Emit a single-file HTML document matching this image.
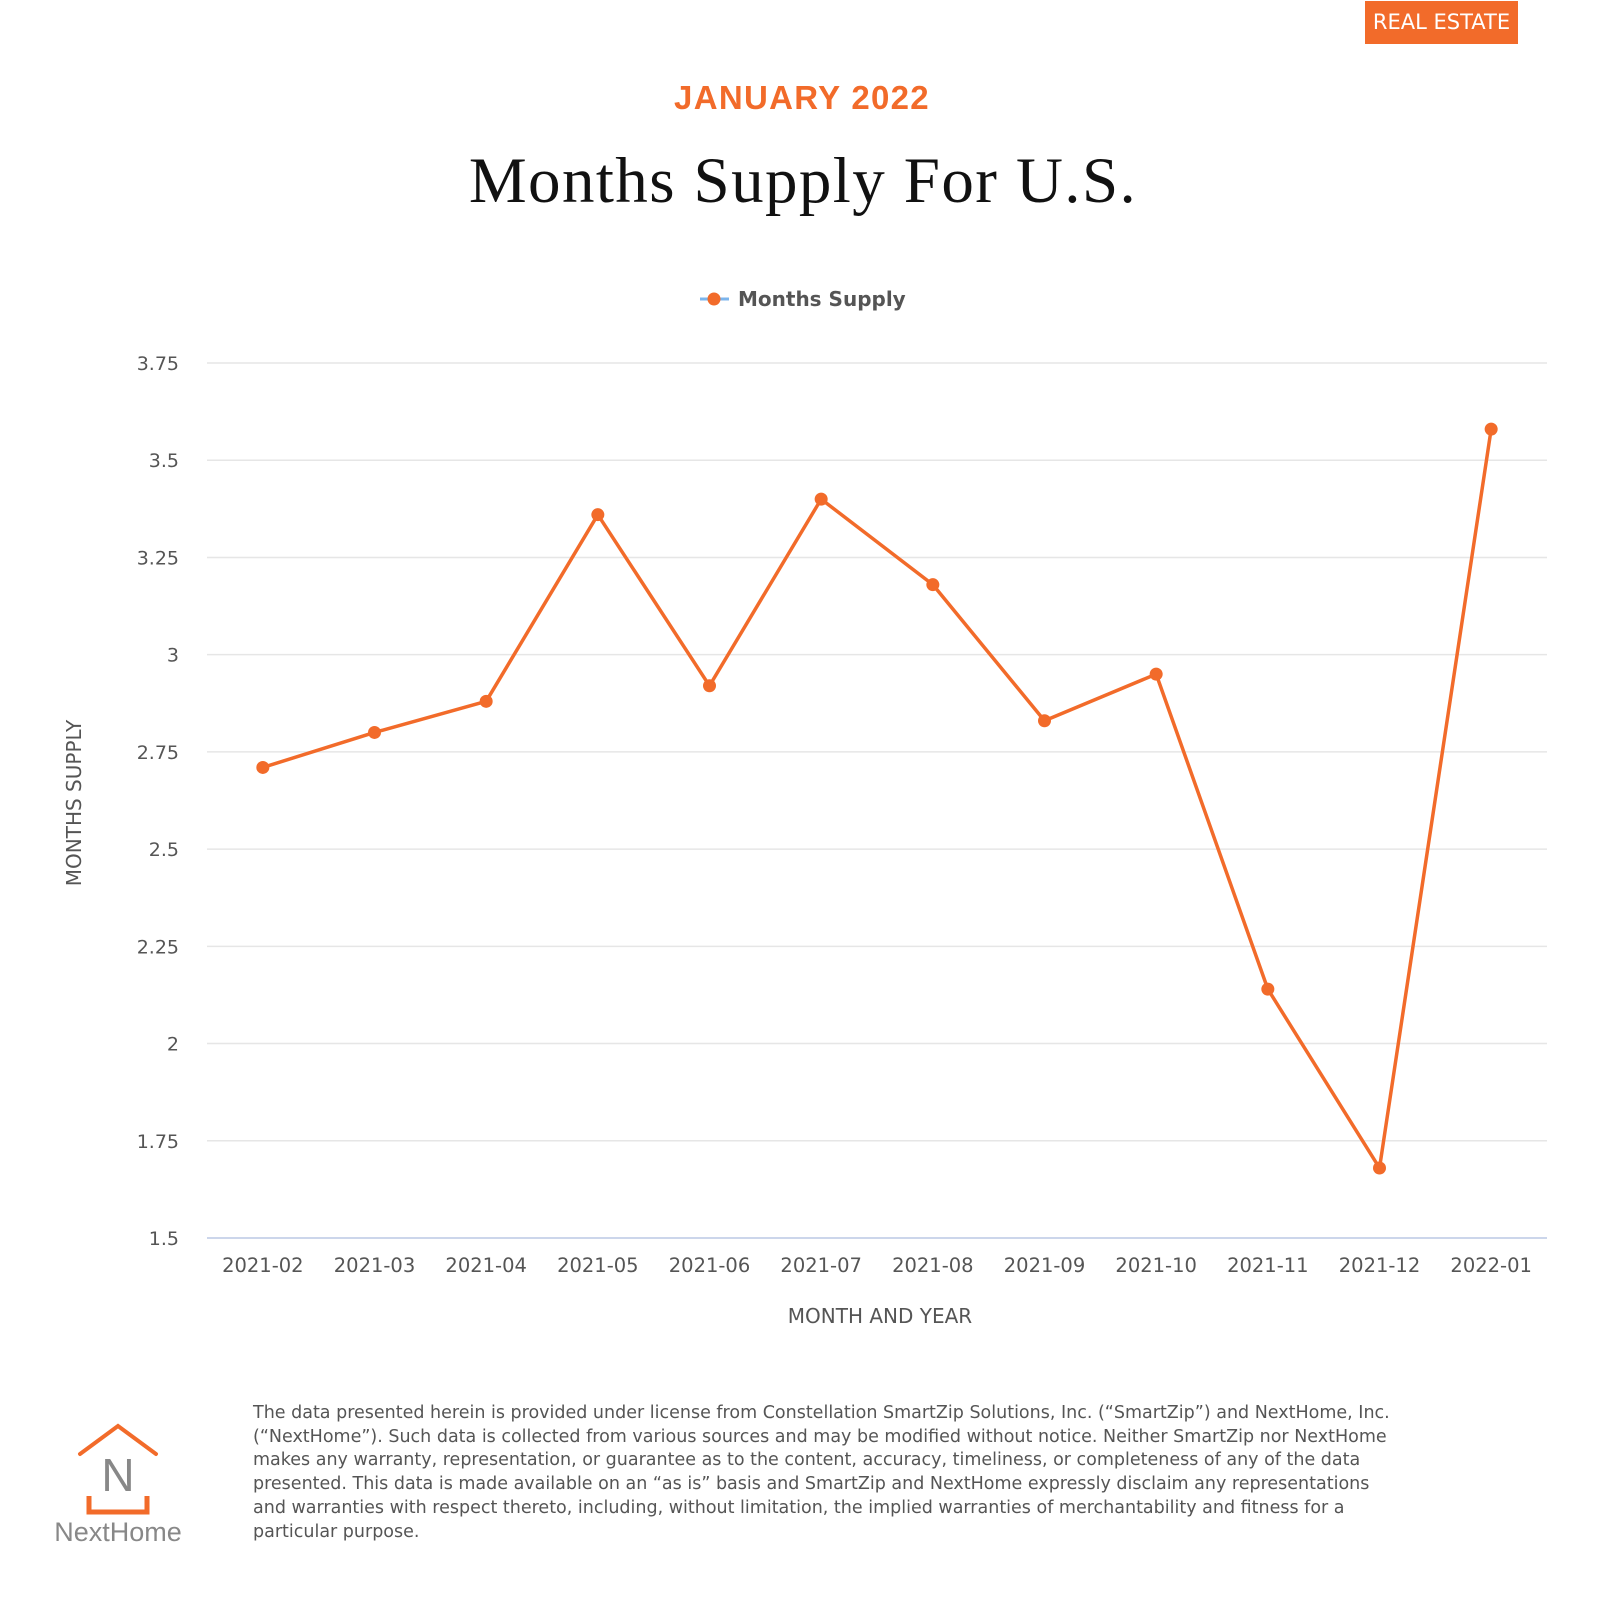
<!DOCTYPE html>
<html><head><meta charset="utf-8"><style>
body{margin:0;width:1600px;height:1600px;background:#fff;font-family:"DejaVu Sans","Liberation Sans",sans-serif;position:relative;overflow:hidden}
.abs{position:absolute}
</style></head><body>
<div class="abs" style="left:1365px;top:1px;width:153px;height:43px;background:#f26b2a;color:#fff;font-size:21px;line-height:43px;text-align:center">REAL ESTATE</div>
<div class="abs" style="left:0;width:1604px;top:79px;text-align:center;color:#f26b2a;font-weight:bold;font-size:33px;letter-spacing:1.3px;font-family:'Liberation Sans',sans-serif">JANUARY 2022</div>
<div class="abs" style="left:0;width:1606px;top:144px;text-align:center;color:#111;font-size:65px;letter-spacing:1.4px;font-family:'Liberation Serif',serif">Months Supply For U.S.</div>
<svg class="abs" style="left:0;top:0" width="1600" height="1600" id="chart"></svg>
<div class="abs" style="left:253px;top:1402px;width:1150px;font-size:17.5px;line-height:23.7px;color:#555">The data presented herein is provided under license from Constellation SmartZip Solutions, Inc. (“SmartZip”) and NextHome, Inc. (“NextHome”). Such data is collected from various sources and may be modified without notice. Neither SmartZip nor NextHome makes any warranty, representation, or guarantee as to the content, accuracy, timeliness, or completeness of any of the data presented. This data is made available on an “as is” basis and SmartZip and NextHome expressly disclaim any representations and warranties with respect thereto, including, without limitation, the implied warranties of merchantability and fitness for a particular purpose.</div>
<svg class="abs" style="left:40px;top:1420px" width="160" height="140">
<polyline points="40,34 78,6 116,34" fill="none" stroke="#f26b2a" stroke-width="4" stroke-linecap="round"/>
<text x="78" y="71" text-anchor="middle" font-size="46" fill="#888" font-family="Liberation Sans,sans-serif">N</text>
<polyline points="49,76 49,92 107,92 107,76" fill="none" stroke="#f26b2a" stroke-width="5"/>
<text x="78" y="121" text-anchor="middle" font-size="27" fill="#888" font-family="Liberation Sans,sans-serif">NextHome</text>
</svg>
<script>
const categories=["2021-02","2021-03","2021-04","2021-05","2021-06","2021-07","2021-08","2021-09","2021-10","2021-11","2021-12","2022-01"];
const values=[2.71,2.80,2.88,3.36,2.92,3.40,3.18,2.83,2.95,2.14,1.68,3.58];
const yTicks=[1.5,1.75,2,2.25,2.5,2.75,3,3.25,3.5,3.75];
const yTickLabels=["1.5","1.75","2","2.25","2.5","2.75","3","3.25","3.5","3.75"];
const svg=document.getElementById('chart');const NS='http://www.w3.org/2000/svg';
const L=207,R=1547,T=363,B=1238,yMin=1.5,yMax=3.75;
const band=(R-L)/categories.length;
const x=i=>L+band*(i+0.5);
const y=v=>B-(v-yMin)/(yMax-yMin)*(B-T);
function mk(t,a,txt){const e=document.createElementNS(NS,t);for(const k in a)e.setAttribute(k,a[k]);if(txt!=null)e.textContent=txt;svg.appendChild(e);return e;}
yTicks.forEach((v,i)=>{
 const g=mk('line',{x1:L,x2:R,y1:y(v),y2:y(v),stroke:i==0?'#ccd6eb':'#e6e6e6','stroke-width':i==0?2:1.5});
 
 
 const t=mk('text',{x:179,y:y(v)+7,'text-anchor':'end','font-size':19,fill:'#555'},yTickLabels[i]);
 
 
});
categories.forEach((c,i)=>{
 const t=mk('text',{x:x(i),y:1272,'text-anchor':'middle','font-size':19.5,fill:'#555'},c);
 
 
});
const xt=mk('text',{x:880,y:1323,'text-anchor':'middle','font-size':20,fill:'#555'},'MONTH AND YEAR');


const yt=mk('text',{x:0,y:0,'text-anchor':'middle','font-size':20,fill:'#555',transform:'translate(81,803) rotate(-90)'},'MONTHS SUPPLY');


const line=mk('polyline',{points:values.map((v,i)=>x(i)+','+y(v)).join(' '),fill:'none',stroke:'#f26b2a','stroke-width':3.5,'stroke-linejoin':'round'});


values.forEach((v,i)=>{
 const p=mk('circle',{cx:x(i),cy:y(v),r:6.5,fill:'#f26b2a'});
 
 
});
const lg=mk('line',{x1:700,x2:729,y1:299,y2:299,stroke:'#7cb5ec','stroke-width':3});


const lc=mk('circle',{cx:714,cy:299,r:6.5,fill:'#f26b2a'});


const lt=mk('text',{x:738,y:306,'font-size':20,'font-weight':'bold',fill:'#555'},'Months Supply');


</script>
</body></html>
